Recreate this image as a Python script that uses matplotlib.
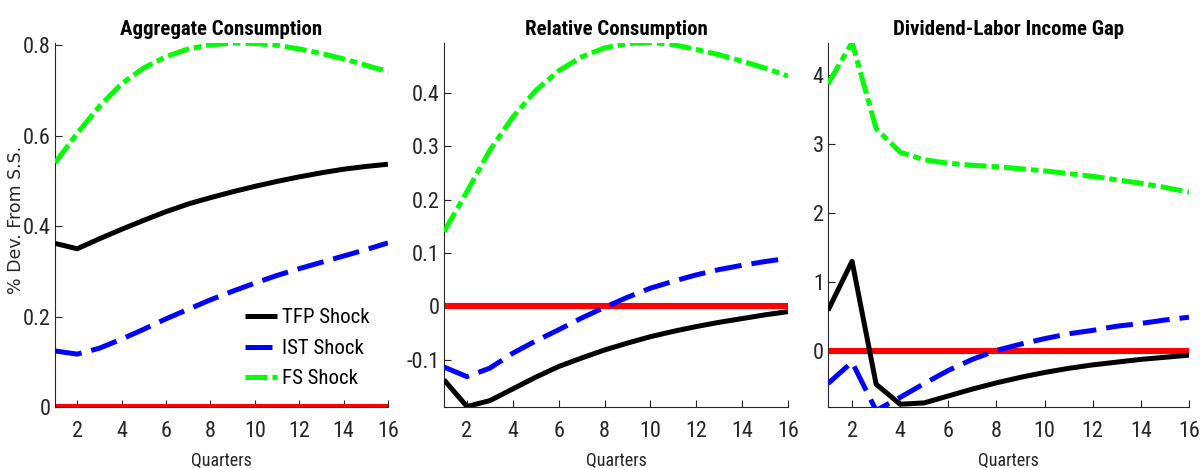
import matplotlib
matplotlib.use("Agg")
import matplotlib.pyplot as plt
from matplotlib import font_manager

# Impulse responses over 16 quarters (% deviation from steady state)
quarters = list(range(1, 17))

agg_tfp = [0.362, 0.350, 0.372, 0.393, 0.413, 0.432, 0.449, 0.463, 0.476, 0.488, 0.499, 0.509, 0.518, 0.526, 0.532, 0.537]
agg_ist = [0.124, 0.117, 0.130, 0.150, 0.172, 0.195, 0.216, 0.237, 0.256, 0.274, 0.291, 0.306, 0.320, 0.334, 0.348, 0.363]
agg_fs = [0.540, 0.605, 0.665, 0.715, 0.750, 0.775, 0.792, 0.801, 0.805, 0.804, 0.800, 0.792, 0.782, 0.770, 0.756, 0.742]

rel_tfp = [-0.138, -0.188, -0.177, -0.155, -0.133, -0.113, -0.097, -0.082, -0.069, -0.057, -0.047, -0.038, -0.030, -0.023, -0.016, -0.010]
rel_ist = [-0.114, -0.132, -0.116, -0.088, -0.065, -0.044, -0.022, -0.002, 0.017, 0.034, 0.047, 0.059, 0.069, 0.077, 0.084, 0.090]
rel_fs = [0.140, 0.215, 0.293, 0.355, 0.405, 0.442, 0.468, 0.485, 0.493, 0.495, 0.491, 0.482, 0.472, 0.460, 0.447, 0.432]

gap_tfp = [0.59, 1.30, -0.48, -0.77, -0.75, -0.65, -0.55, -0.46, -0.38, -0.31, -0.25, -0.20, -0.16, -0.12, -0.09, -0.06]
gap_ist = [-0.47, -0.16, -0.86, -0.67, -0.47, -0.28, -0.12, 0.01, 0.10, 0.18, 0.25, 0.30, 0.36, 0.40, 0.45, 0.49]
gap_fs = [3.87, 4.47, 3.22, 2.88, 2.77, 2.72, 2.69, 2.67, 2.64, 2.61, 2.57, 2.53, 2.48, 2.43, 2.37, 2.30]

zero_line = [0.0] * 16

titles = ["Aggregate Consumption", "Relative Consumption", "Dividend-Labor Income Gap"]
series_labels = ["TFP Shock", "IST Shock", "FS Shock"]
ylims = [(0.0, 0.805), (-0.189, 0.494), (-0.81, 4.46)]
yticks = [[0, 0.2, 0.4, 0.6, 0.8], [-0.1, 0, 0.1, 0.2, 0.3, 0.4], [0, 1, 2, 3, 4]]
xticks = [2, 4, 6, 8, 10, 12, 14, 16]

# Prefer a narrow sans face for the axis text when one is installed
available = {f.name for f in font_manager.fontManager.ttflist}
narrow = None
for cand in ["Liberation Sans Narrow", "Roboto Condensed", "Open Sans Condensed",
             "DejaVu Sans Condensed", "Noto Sans Condensed", "Arial Narrow"]:
    if cand in available:
        narrow = cand
        break
condensed_names = sorted(n for n in available if "ondensed" in n or "arrow" in n)
if narrow is None and condensed_names:
    narrow = condensed_names[0]
if narrow is None:
    narrow = "Liberation Sans"
plt.rcParams["font.family"] = [narrow, "DejaVu Sans"]

fig = plt.figure(figsize=(12, 4.68), dpi=100)
boxes = [
    (0.0458, 0.1303, 0.2775, 0.7777),
    (0.3700, 0.1303, 0.2867, 0.7777),
    (0.6900, 0.1303, 0.3008, 0.7777),
]
panels = [
    (agg_tfp, agg_ist, agg_fs),
    (rel_tfp, rel_ist, rel_fs),
    (gap_tfp, gap_ist, gap_fs),
]

axis_color = "#262626"
lw = 3.6

for i, (box, (tfp, ist, fs)) in enumerate(zip(boxes, panels)):
    ax = fig.add_axes(box)
    ax.plot(quarters, zero_line, color="#ff0000", lw=4.4, solid_capstyle="butt", zorder=2)
    l1, = ax.plot(quarters, tfp, color="black", lw=lw, solid_capstyle="butt", zorder=3)
    l2, = ax.plot(quarters, ist, color="#0000ff", lw=lw, dash_capstyle="butt", zorder=3)
    l2.set_dashes((5.4, 2.0))
    l3, = ax.plot(quarters, fs, color="#00ff00", lw=lw, dash_capstyle="butt", zorder=3)
    l3.set_dashes((4.4, 1.0, 1.5, 1.0))

    ax.set_xlim(1, 16)
    ax.set_ylim(*ylims[i])
    ax.set_xticks(xticks)
    ax.set_yticks(yticks[i])
    ax.set_yticklabels([f"{v:g}" for v in yticks[i]])
    ax.tick_params(direction="in", length=5, width=0.8, colors=axis_color,
                   labelsize=16, labelcolor=axis_color)
    ax.tick_params(axis="x", pad=10)
    ax.tick_params(axis="y", pad=3)
    for side in ("top", "right"):
        ax.spines[side].set_visible(False)
    for side in ("left", "bottom"):
        ax.spines[side].set_color(axis_color)
        ax.spines[side].set_linewidth(0.8)
    ax.set_xlabel("Quarters", fontsize=13, color=axis_color, labelpad=7)
    ax.set_title(titles[i], fontsize=15, fontweight="bold", color="black", pad=6)
    ax.patch.set_alpha(0)

    if i == 0:
        ax.legend([l1, l2, l3], series_labels, loc="lower right", frameon=False,
                  fontsize=15, handlelength=1.55, handletextpad=0.2,
                  labelspacing=0.55, bbox_to_anchor=(1.0, 0.0))

fig.text(0.013, 0.53, "% Dev. From S.S.", rotation=90, ha="center", va="center",
         fontsize=12.5, color=axis_color, family=["DejaVu Sans"])

fig.savefig("out.png", dpi=100, facecolor="white")
